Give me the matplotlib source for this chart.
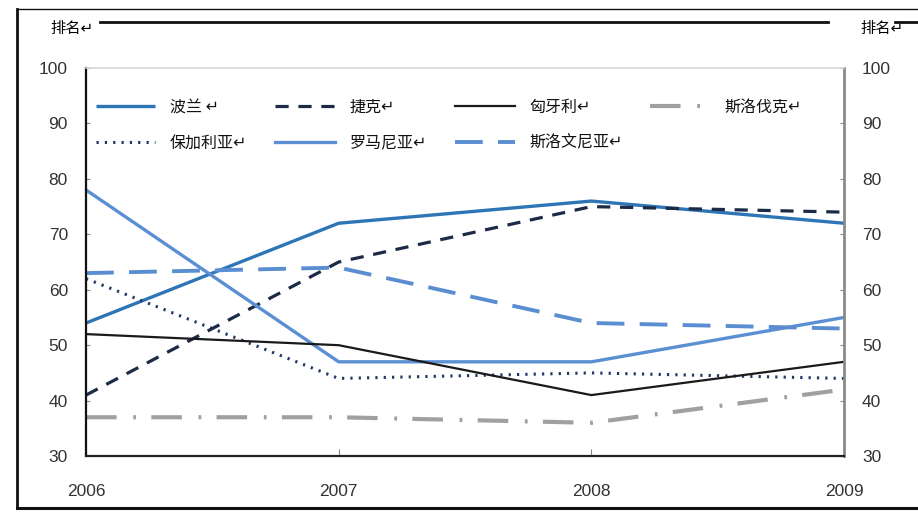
"""Ranking of eight CEE countries, 2006-2009, redrawn from a scanned chart"""

# imports
import matplotlib
matplotlib.use("Agg")
import matplotlib.pyplot as plt
from matplotlib.lines import Line2D

plt.rcParams["font.family"] = ["Liberation Sans", "DejaVu Sans"]
plt.rcParams["lines.scale_dashes"] = False

CJK = ["Noto Sans CJK SC", "DejaVu Sans"]

# data
years = [2006, 2007, 2008, 2009]
poland = [54, 72, 76, 72]
czech = [41, 65, 75, 74]
hungary = [52, 50, 41, 47]
slovakia = [37, 37, 36, 42]
bulgaria = [62, 44, 45, 44]
romania = [78, 47, 47, 55]
slovenia = [63, 64, 54, 53]
y_ticks = [30, 40, 50, 60, 70, 80, 90, 100]

labels = ["波兰 ↵", "保加利亚↵", "捷克↵", "罗马尼亚↵", "匈牙利↵", "斯洛文尼亚↵", "斯洛伐克↵"]

fig = plt.figure(figsize=(9.18, 5.13), dpi=100)
ax = fig.add_axes([0.0937, 0.111, 0.8257, 0.7564])

# order matches legend column filling
ax.plot(years, poland, color="#2e75b6", lw=2.4, solid_capstyle="butt", label=labels[0])
ax.plot(years, bulgaria, color="#1f3864", lw=2.2, linestyle=(0, (1.6, 4.4)), label=labels[1])
ax.plot(years, czech, color="#1c2a45", lw=2.3, linestyle=(0, (9.5, 7)), label=labels[2])
ax.plot(years, romania, color="#5b8fd4", lw=2.4, label=labels[3])
ax.plot(years, hungary, color="#1a1a1a", lw=1.6, label=labels[4])
ax.plot(years, slovenia, color="#5b8ed0", lw=2.8, linestyle=(0, (20, 11)), label=labels[5])
ax.plot(years, slovakia, color="#a0a0a0", lw=3.0, linestyle=(0, (22, 12, 2, 11)), label=labels[6])

ax.set_xlim(years[0], years[-1])
ax.set_ylim(y_ticks[0], y_ticks[-1])
ax.set_yticks(y_ticks)
ax.set_xticks(years)
ax.set_xticklabels([str(y) for y in years])

ax.tick_params(axis="y", which="both", direction="in", length=3, color="#888888",
               labelsize=12.5, labelcolor="#333333", pad=13, right=True, labelright=True)
ax.tick_params(axis="x", direction="in", length=5, color="#888888",
               labelsize=12.5, labelcolor="#333333", pad=20)

ax.spines["left"].set_color("#111111")
ax.spines["left"].set_linewidth(1.6)
ax.spines["bottom"].set_color("#222222")
ax.spines["bottom"].set_linewidth(1.6)
ax.spines["right"].set_color("#8a8a8a")
ax.spines["right"].set_linewidth(2.0)
ax.spines["top"].set_color("#d8d8d8")
ax.spines["top"].set_linewidth(1.2)

leg = ax.legend(loc="upper left", bbox_to_anchor=(0.0, 0.945), ncol=4, frameon=False,
                prop={"family": CJK, "size": 11.5}, handlelength=3.75, handletextpad=0.9,
                columnspacing=1.75, labelspacing=1.15, borderaxespad=0.2)
for txt in leg.get_texts():
    txt.set_color("#111111")

# axis titles
fig.text(0.055, 0.945, "排名↵", family=CJK, fontsize=11, ha="left", va="center")
fig.text(0.937, 0.945, "排名↵", family=CJK, fontsize=11, ha="left", va="center")

# outer frame of the scanned figure
fig.add_artist(Line2D([0.019, 1.0], [0.983, 0.983], color="#111111", lw=1.0,
                      transform=fig.transFigure))
fig.add_artist(Line2D([0.019, 0.019], [0.983, 0.01], color="#111111", lw=2.0,
                      transform=fig.transFigure))
fig.add_artist(Line2D([0.019, 1.0], [0.01, 0.01], color="#111111", lw=2.2,
                      transform=fig.transFigure))
fig.add_artist(Line2D([0.109, 0.902], [0.958, 0.958], color="#111111", lw=2.0,
                      transform=fig.transFigure))
fig.add_artist(Line2D([0.975, 1.0], [0.958, 0.958], color="#111111", lw=2.0,
                      transform=fig.transFigure))

fig.savefig("out.png", dpi=100)
